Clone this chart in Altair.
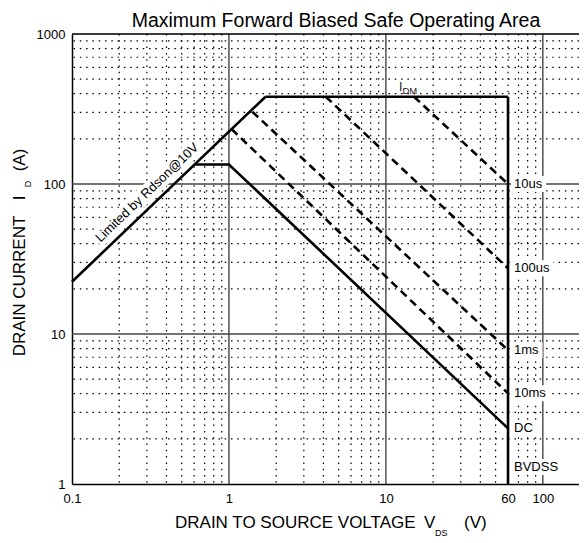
import altair as alt
import pandas as pd

# ---------------- data ----------------
rdson_v = [0.1, 1.71]
rdson_i = [22.3, 382]
idm_v = [1.71, 60]
idm_i = [382, 382]
bvdss_v = [60, 60]
bvdss_i = [382, 1]
dc_v = [0.605, 1.0, 60]
dc_i = [135, 135, 2.35]

us10_v = [15.1, 60]
us10_i = [382, 100]
us100_v = [4.14, 60]
us100_i = [382, 27.4]
ms1_v = [1.41, 60]
ms1_i = [303, 7.8]
ms10_v = [1.04, 60]
ms10_i = [232, 4.02]

end_labels = ["10us", "100us", "1ms", "10ms", "DC", "BVDSS"]
end_label_i = [100, 27.4, 7.8, 4.02, 2.35, 1.3]
end_label_v = [60, 60, 60, 60, 60, 60]

rdson_label = "Limited by Rdson@10V"
rdson_label_v = [0.301]
rdson_label_i = [87.7]
rdson_bg_v = [0.1434, 0.632]
rdson_bg_i = [41.8, 184]

idm_label_v = [12.1]
idm_label_i = [382]

x_ticks = [0.1, 1, 10, 60, 100]
y_ticks = [1, 10, 100, 1000]
x_minor = [0.2, 0.3, 0.4, 0.5, 0.6, 0.7, 0.8, 0.9,
           2, 3, 4, 5, 6, 7, 8, 9,
           20, 30, 40, 50, 60, 70, 80, 90]
x_major = [1, 10, 100]
y_minor = [2, 3, 4, 5, 6, 7, 8, 9,
           20, 30, 40, 50, 60, 70, 80, 90,
           200, 300, 400, 500, 600, 700, 800, 900]
y_major = [10, 100]

title_text = "Maximum Forward Biased Safe Operating Area"

# ---------------- layout ----------------
W, H = 507, 450
FONT = "Liberation Sans"

xs = alt.Scale(type="log", domain=[0.1, 170], nice=False)
ys = alt.Scale(type="log", domain=[1, 1000], nice=False)

xaxis = alt.Axis(values=x_ticks, format="~g", grid=False, ticks=False, tickSize=0,
                 domainColor="black", domainWidth=1.5, labelFont=FONT,
                 labelFontSize=13, labelColor="black", labelPadding=8,
                 title=None, labelFlush=False, labelOverlap=False)
yaxis = alt.Axis(values=y_ticks, format="~g", grid=False, ticks=False, tickSize=0,
                 domainColor="black", domainWidth=1.5, labelFont=FONT,
                 labelFontSize=13, labelColor="black", labelPadding=7,
                 title=None, labelFlush=False, labelOverlap=False)


def X(f):
    return alt.X(f"{f}:Q", scale=xs, axis=xaxis)


def Y(f):
    return alt.Y(f"{f}:Q", scale=ys, axis=yaxis)


# ---------------- grid ----------------
dot = [1.5, 4.8]
gx_minor = alt.Chart(pd.DataFrame({"v": x_minor})).mark_rule(
    color="black", strokeWidth=1.2, strokeDash=dot).encode(x=X("v"))
gy_minor = alt.Chart(pd.DataFrame({"i": y_minor})).mark_rule(
    color="black", strokeWidth=1.2, strokeDash=dot).encode(y=Y("i"))
gx_major = alt.Chart(pd.DataFrame({"v": x_major})).mark_rule(
    color="#444", strokeWidth=1.4).encode(x=X("v"))
gy_major = alt.Chart(pd.DataFrame({"i": y_major})).mark_rule(
    color="#444", strokeWidth=1.4).encode(y=Y("i"))
top_frame = alt.Chart(pd.DataFrame({"a": [0]})).mark_rule(
    color="black", strokeWidth=1.5).encode(x=alt.value(0), x2=alt.value(W), y=alt.value(0))

# ---------------- white backgrounds under labels ----------------
bg_rd = alt.Chart(pd.DataFrame({"v": rdson_bg_v, "i": rdson_bg_i})).mark_line(
    color="white", strokeWidth=17, strokeCap="butt").encode(x=X("v"), y=Y("i"))

cw = {"1": 7.23, "0": 7.23, "u": 7.23, "s": 6.5, "m": 10.83, "D": 9.39,
      "C": 9.39, "B": 8.67, "V": 8.67, "S": 8.67}
scale_px = 50.0  # size 10000 -> 50 px per unit


def box_path(lbl):
    w = sum(cw.get(c, 7.2) for c in lbl)
    x0, x1 = 3 / scale_px, (6 + w + 4) / scale_px
    y0, y1 = -8 / scale_px, 8 / scale_px
    return f"M{x0:.3f},{y0:.3f}L{x1:.3f},{y0:.3f}L{x1:.3f},{y1:.3f}L{x0:.3f},{y1:.3f}Z"


lab_df = pd.DataFrame({"v": end_label_v, "i": end_label_i, "t": end_labels})
lab_df["path"] = [box_path(t) for t in end_labels]
bg_lab = alt.Chart(lab_df).mark_point(filled=True, color="white", opacity=1,
                                      strokeWidth=0, size=10000).encode(
    x=X("v"), y=Y("i"), shape=alt.Shape("path:N", scale=None, legend=None))

# ---------------- SOA lines ----------------
solid_rows = []
for name, vs, is_ in [("rdson", rdson_v, rdson_i), ("idm", idm_v, idm_i),
                      ("bvdss", bvdss_v, bvdss_i), ("dc", dc_v, dc_i)]:
    for k, (v, i) in enumerate(zip(vs, is_)):
        solid_rows.append({"seg": name, "ord": k, "v": v, "i": i})
dash_rows = []
for name, vs, is_ in [("10us", us10_v, us10_i), ("100us", us100_v, us100_i),
                      ("1ms", ms1_v, ms1_i), ("10ms", ms10_v, ms10_i)]:
    for k, (v, i) in enumerate(zip(vs, is_)):
        dash_rows.append({"seg": name, "ord": k, "v": v, "i": i})

solid = alt.Chart(pd.DataFrame(solid_rows)).mark_line(
    color="black", strokeWidth=2.6, strokeJoin="miter").encode(
    x=X("v"), y=Y("i"), detail="seg:N", order="ord:Q")
dashed = alt.Chart(pd.DataFrame(dash_rows)).mark_line(
    color="black", strokeWidth=2.6, strokeDash=[8, 5]).encode(
    x=X("v"), y=Y("i"), detail="seg:N", order="ord:Q")

# ---------------- labels ----------------
end_text = alt.Chart(lab_df).mark_text(
    align="left", baseline="middle", dx=6, font=FONT, fontSize=13, color="black").encode(
    x=X("v"), y=Y("i"), text="t:N")

rd_text = alt.Chart(pd.DataFrame({"v": rdson_label_v, "i": rdson_label_i,
                                  "t": [rdson_label]})).mark_text(
    align="center", baseline="middle", angle=316.3, font=FONT, fontSize=13,
    color="black").encode(x=X("v"), y=Y("i"), text="t:N")

idm_df = pd.DataFrame({"v": idm_label_v, "i": idm_label_i, "t": ["I"], "s": ["DM"]})
idm_main = alt.Chart(idm_df).mark_text(
    align="left", baseline="alphabetic", dy=-6, font=FONT, fontSize=12.5,
    color="#222").encode(x=X("v"), y=Y("i"), text="t:N")
idm_sub = alt.Chart(idm_df).mark_text(
    align="left", baseline="alphabetic", dx=3.5, dy=-2.7, font=FONT, fontSize=9.5,
    color="#222").encode(x=X("v"), y=Y("i"), text="s:N")

# ---------------- titles (plain text marks) ----------------
def txt(s, x, y, size, align="left", angle=0, baseline="alphabetic"):
    kw = dict(align=align, baseline=baseline, font=FONT, fontSize=size, color="black")
    if angle:
        kw["angle"] = angle
    return alt.Chart(pd.DataFrame({"t": [s]})).mark_text(**kw).encode(
        x=alt.value(x), y=alt.value(y), text="t:N")


titles = [
    txt(title_text, 264, -7.5, 19.5, align="center"),
    txt("DRAIN TO SOURCE VOLTAGE", 103, 494, 17),
    txt("V", 352, 494, 17),
    txt("DS", 363, 502, 9),
    txt("(V)", 392, 494, 17),
    txt("DRAIN CURRENT", -47, 252, 17, align="center", angle=270),
    txt("I", -47, 164, 17, align="center", angle=270),
    txt("D", -41, 150, 9, align="center", angle=270),
    txt("(A)", -47, 126, 17, align="center", angle=270),
]

chart = alt.layer(
    gx_minor, gy_minor, gx_major, gy_major, top_frame,
    bg_rd, bg_lab, solid, dashed, end_text, rd_text, idm_main, idm_sub, *titles
).properties(
    width=W, height=H,
    autosize=alt.AutoSizeParams(type="none"),
    padding={"left": 64, "top": 26, "right": 0, "bottom": 58},
).configure_view(strokeWidth=0).configure(background="white")

chart.save("out.html", embed_options={"renderer": "svg", "actions": False})
